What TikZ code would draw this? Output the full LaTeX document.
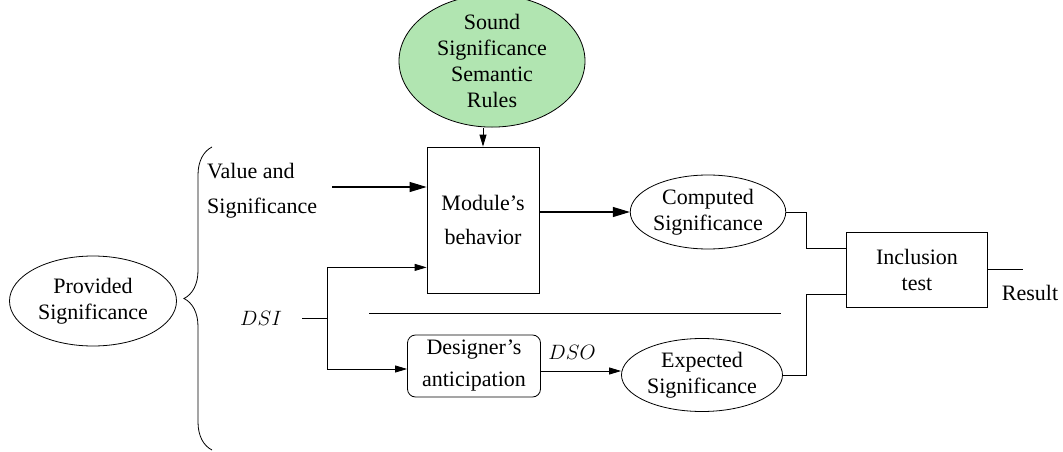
\documentclass[tikz,border=0pt]{standalone}
\usepackage{fontspec}
\setmainfont{Liberation Serif}
\usetikzlibrary{shapes.geometric,arrows.meta,decorations.pathreplacing}
\definecolor{sgreen}{RGB}{177,229,177}
\begin{document}
\begin{tikzpicture}[x=1pt,y=-1pt,
  every node/.style={font=\fontsize{22}{26}\selectfont, inner sep=0pt},
  ell/.style={draw, ellipse, line width=0.8pt, align=center},
  box/.style={draw, rectangle, line width=0.8pt, align=center},
  line/.style={line width=0.8pt},
  bigarrow/.style={line width=1.1pt, -{Triangle[length=17pt,width=10pt]}},
  smallarrow/.style={line width=0.8pt, -{Triangle[length=12pt,width=7pt]}}]
\useasboundingbox (0,0) rectangle (1063,452);

\node[ell, fill=sgreen, minimum width=186, minimum height=115] (sound) at (492,61) {Sound\\Significance\\Semantic\\Rules};
\node[box, minimum width=112, minimum height=146] (mod) at (483,220) {Module’s\\[8pt]behavior};
\node[ell, minimum width=150, minimum height=74] (comp) at (708,212) {Computed\\Significance};
\node[box, minimum width=141, minimum height=75] (inc) at (917,270) {Inclusion\\test};
\node[ell, minimum width=161, minimum height=73] (exp) at (702,375) {Expected\\Significance};
\node[box, rounded corners=8pt, minimum width=133, minimum height=62] (des) at (474,366) {Designer’s\\[6pt]anticipation};
\node[ell, minimum width=167, minimum height=90] (prov) at (93,301) {Provided\\Significance};
\node[anchor=west, align=left] (vs) at (207,191) {Value and\\[9pt]Significance};
\node (dsi) at (261,318) {$DSI$};
\node (dso) at (572,352) {$DSO$};
\node (res) at (1030,293) {Result};

\coordinate (vsend) at (332,187);
\coordinate (split) at (327,318);
\coordinate (dsiend) at (302,318);
\coordinate (modin) at ([yshift=26pt]mod.south west);
\coordinate (desin) at ([yshift=-3pt]des.west);
\coordinate (desout) at ([yshift=-5pt]des.east);
\coordinate (s1) at (369,313);
\coordinate (s2) at (781,313);
\coordinate (jx) at (806,0);
\coordinate (incup) at ([yshift=22pt]inc.west);
\coordinate (incdn) at ([yshift=-24pt]inc.west);
\coordinate (resend) at (1023,269);

\draw[smallarrow] (sound.south -| mod.north) -- (mod.north);
\draw[bigarrow] (vsend) -- (vsend -| mod.west);
\draw[bigarrow] (mod.east |- comp.west) -- (comp.west);
\draw[line] (dsiend) -- (split);
\draw[smallarrow] (split) |- (modin);
\draw[smallarrow] (split) |- (desin);
\draw[smallarrow] (desout) -- (desout -| exp.west);
\draw[line] (s1) -- (s2);
\draw[line] (comp.east) -- (comp.east -| jx) |- (incup);
\draw[line] (exp.east) -- (exp.east -| jx) |- (incdn);
\draw[line] (inc.east |- resend) -- (resend);
\draw[line, decorate, decoration={brace, amplitude=28pt}] (212,450) -- (212,147);
\end{tikzpicture}
\end{document}
